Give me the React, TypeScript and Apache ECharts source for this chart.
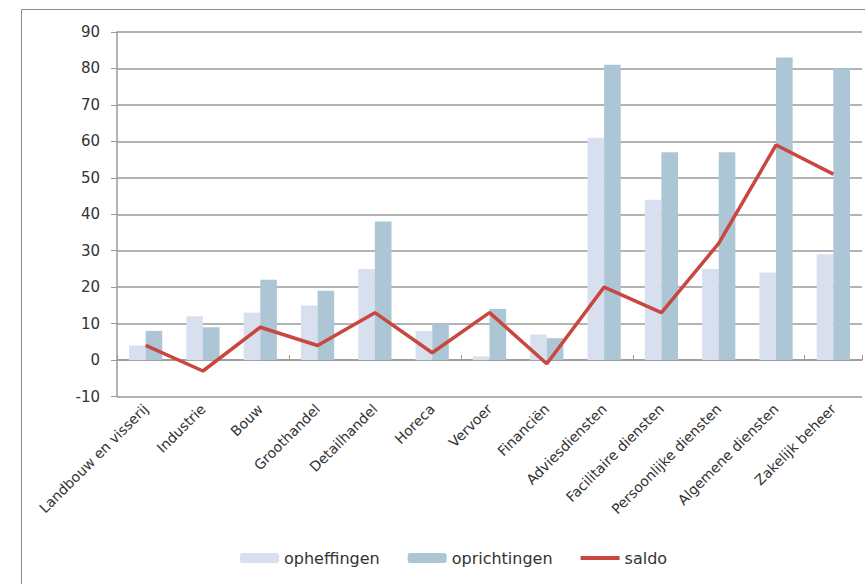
import React, { useEffect, useRef } from "react";
import * as echarts from "echarts";

const categories = [
  "Landbouw en visserij",
  "Industrie",
  "Bouw",
  "Groothandel",
  "Detailhandel",
  "Horeca",
  "Vervoer",
  "Financiën",
  "Adviesdiensten",
  "Facilitaire diensten",
  "Persoonlijke diensten",
  "Algemene diensten",
  "Zakelijk beheer",
];
const opheffingen = [4, 12, 13, 15, 25, 8, 1, 7, 61, 44, 25, 24, 29];
const oprichtingen = [8, 9, 22, 19, 38, 10, 14, 6, 81, 57, 57, 83, 80];
const saldo = [4, -3, 9, 4, 13, 2, 13, -1, 20, 13, 32, 59, 51];

const FONT = "'DejaVu Sans', 'Noto Sans', sans-serif";
const GRID_COLOR = "#9a9a9a";
const RED = "#c8473e";

export default function App() {
  const ref = useRef<HTMLDivElement>(null);
  useEffect(() => {
    document.body.style.margin = "0";
    const chart = echarts.init(ref.current!, undefined, { renderer: "svg" });
    chart.setOption({
      animation: false,
      backgroundColor: "#ffffff",
      textStyle: { fontFamily: FONT },
      graphic: [
        {
          type: "rect",
          shape: { x: 21.5, y: 9.5, width: 900, height: 700 },
          style: { fill: "none", stroke: "#8c8c8c", lineWidth: 1 },
          silent: true,
        },
      ],
      grid: { left: 117, right: 3, top: 32, bottom: 187.5, containLabel: false },
      legend: {
        left: 240,
        top: 550,
        padding: 0,
        itemWidth: 39,
        itemHeight: 10,
        itemGap: 28,
        textStyle: { fontSize: 16, color: "#333", fontFamily: FONT },
        data: [
          { name: "opheffingen" },
          { name: "oprichtingen" },
          {
            name: "saldo",
            icon: "path://M0,0 L0,0 M0,3 L40,3 L40,7 L0,7 Z M40,10 L40,10",
            itemStyle: { color: RED },
          },
        ],
      },
      xAxis: [
        {
          type: "category",
          data: categories,
          position: "bottom",
          axisLine: { show: true, onZero: true, lineStyle: { color: GRID_COLOR, width: 1.5 } },
          axisTick: { show: true, inside: true, length: 5, lineStyle: { color: GRID_COLOR } },
          axisLabel: { show: false },
          splitLine: { show: false },
        },
        {
          type: "category",
          data: categories,
          position: "bottom",
          axisLine: { show: false, onZero: false },
          axisTick: { show: false },
          axisLabel: {
            show: true,
            rotate: 45,
            margin: 10,
            interval: 0,
            fontSize: 14,
            color: "#333",
            fontFamily: FONT,
          },
          splitLine: { show: false },
        },
      ],
      yAxis: {
        type: "value",
        min: -10,
        max: 90,
        interval: 10,
        axisLine: { show: true, lineStyle: { color: GRID_COLOR, width: 1.5 } },
        axisTick: { show: true, length: 6, lineStyle: { color: GRID_COLOR } },
        axisLabel: { fontSize: 15, color: "#333", margin: 17, fontFamily: FONT },
        splitLine: { show: true, lineStyle: { color: GRID_COLOR, width: 1.5 } },
      },
      series: [
        {
          name: "opheffingen",
          type: "bar",
          xAxisIndex: 0,
          data: opheffingen,
          barGap: "0%",
          barCategoryGap: "42%",
          itemStyle: { color: "#d8dfef" },
        },
        {
          name: "oprichtingen",
          type: "bar",
          xAxisIndex: 0,
          data: oprichtingen,
          barGap: "0%",
          barCategoryGap: "42%",
          itemStyle: { color: "#adc6d5" },
        },
        {
          name: "saldo",
          type: "line",
          xAxisIndex: 0,
          data: saldo,
          symbol: "none",
          lineStyle: { color: RED, width: 3.5 },
          itemStyle: { color: RED },
        },
      ],
    });
    return () => chart.dispose();
  }, []);
  return <div ref={ref} style={{ width: 865, height: 584 }} />;
}
